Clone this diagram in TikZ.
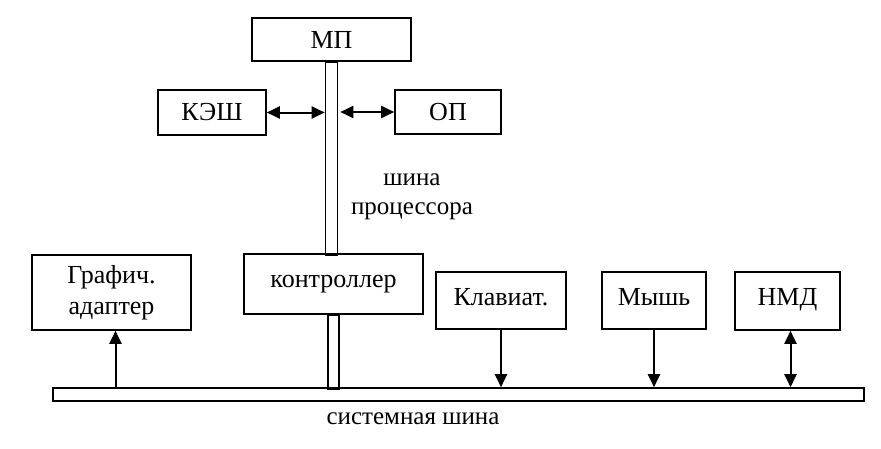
\documentclass[tikz,border=0pt]{standalone}
\usepackage{fontspec}
\setmainfont{Liberation Serif}
\usetikzlibrary{positioning,arrows.meta}

\begin{document}
\begin{tikzpicture}[x=1pt,y=-1pt,
      blok/.style={draw,line width=1.6pt,align=center,inner sep=0pt,
                   font=\fontsize{26}{31}\selectfont},
      verh/.style={blok,text depth=8pt},
      shina/.style={draw,line width=1.6pt,inner sep=0pt,minimum width=12pt},
      metka/.style={align=center,font=\fontsize{25}{29}\selectfont},
      st/.style={-{Triangle[length=13pt,width=12pt]},line width=2pt},
      dst/.style={{Triangle[length=13pt,width=12pt]}-{Triangle[length=13pt,width=12pt]},line width=2pt}]
    \useasboundingbox (0,0) rectangle (881,448);
    % processor part
    \node[blok,minimum width=159pt,minimum height=43pt] (mp) at (331.5,39.5) {МП};
    \node[blok,minimum width=108pt,minimum height=45pt] (kesh) at (212,112.5) {КЭШ};
    \node[blok,minimum width=106pt,minimum height=44pt] (op) at (448,112) {ОП};
    \node[blok,minimum width=179pt,minimum height=60pt] (kontr) at (333.5,284) {контроллер};
    \node[shina,minimum height=193pt,anchor=north] (pshina) at (mp.south) {};
    \node[shina,minimum width=11pt,minimum height=74pt,anchor=north] (pshina2) at (kontr.south) {};
    \node[metka] (pmetka) at (412,197) {шина\\процессора};
    % system bus and devices
    \node[shina,minimum width=811pt,minimum height=13pt] (sshina) at (458.5,394.5) {};
    \node[metka] (smetka) at (413,419) {системная шина};
    \node[blok,minimum width=159pt,minimum height=75pt] (graf) at (111.5,292.5) {Графич.\\ адаптер};
    \node[verh,minimum width=130pt,minimum height=57pt] (klav) at (501,300.5) {Клавиат.};
    \node[verh,minimum width=104pt,minimum height=57pt] (mysh) at (654,300.5) {Мышь};
    \node[verh,minimum width=105pt,minimum height=58pt] (nmd) at (787.5,301) {НМД};
    % connections
    \draw[dst] (kesh.east) -- (kesh.east -| pshina.west);
    \draw[dst] (op.west) -- ([xshift=2pt]op.west -| pshina.east);
    \draw[st] ([xshift=4pt]graf.south |- sshina.north) -- ([xshift=4pt]graf.south);
    \foreach \b in {klav,mysh} \draw[st] (\b.south) -- (\b.south |- sshina.north);
    \draw[dst] ([xshift=3pt]nmd.south) -- ([xshift=3pt]nmd.south |- sshina.north);
  \end{tikzpicture}
\end{document}
